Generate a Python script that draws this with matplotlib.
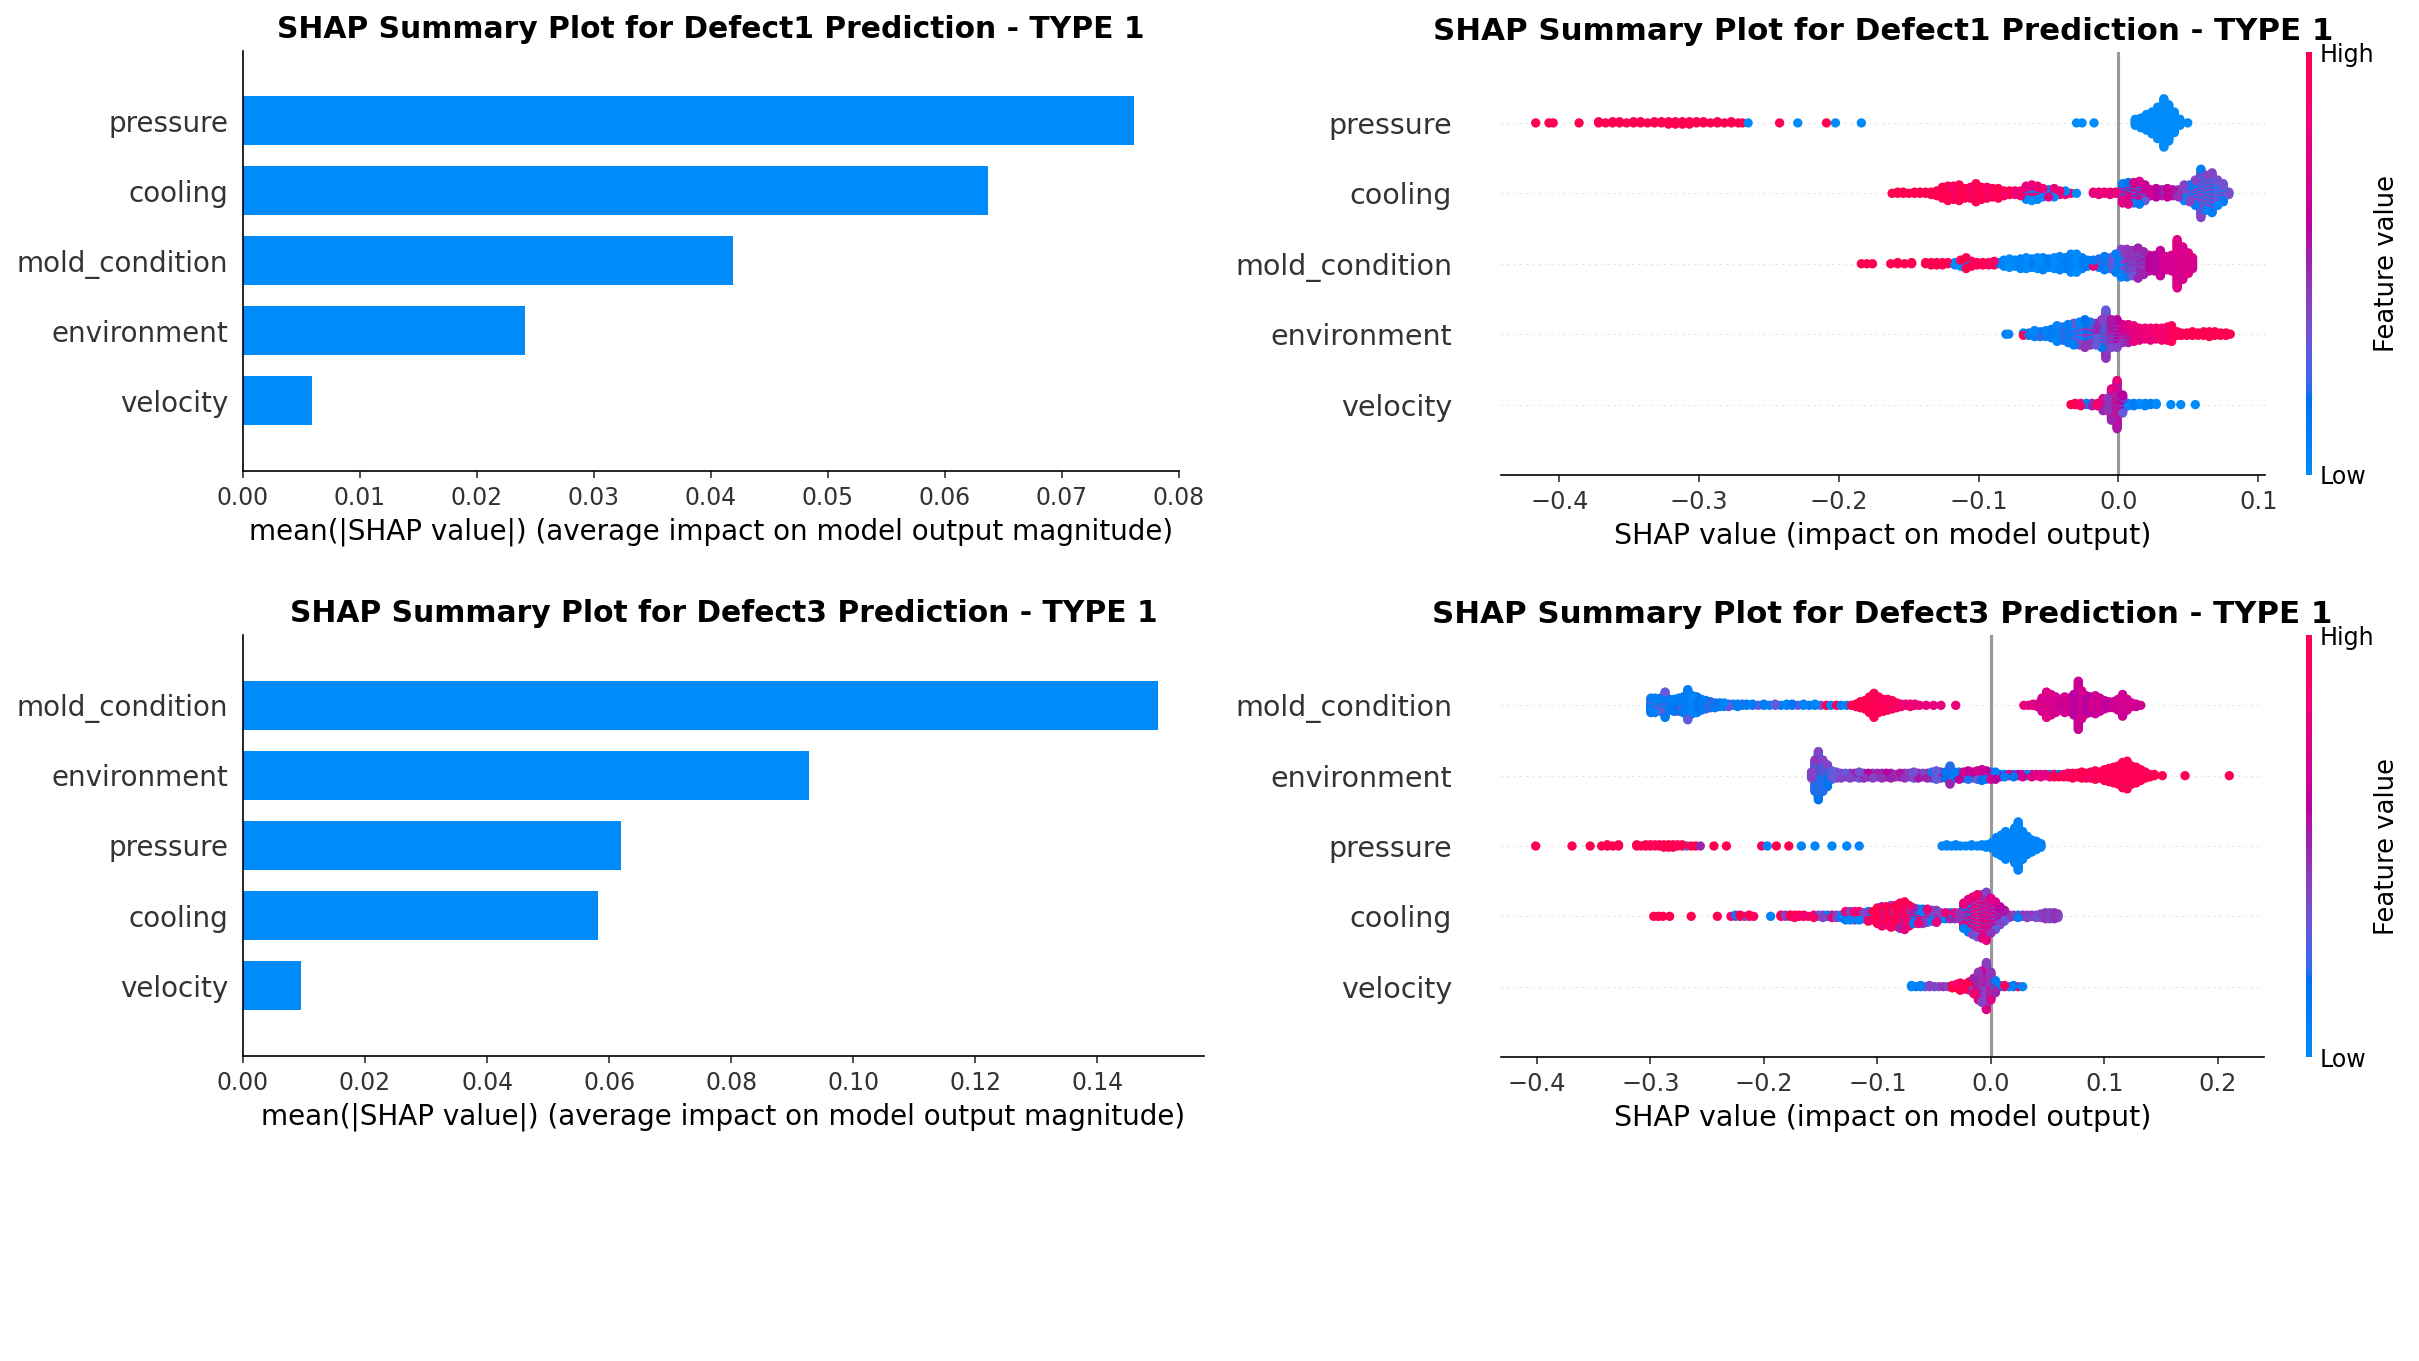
import numpy as np
import matplotlib
matplotlib.use("Agg")
import matplotlib.pyplot as plt
from matplotlib.colors import LinearSegmentedColormap, Normalize
from matplotlib.cm import ScalarMappable

# ---------------- data ----------------
title_d1 = "SHAP Summary Plot for Defect1 Prediction - TYPE 1"
title_d3 = "SHAP Summary Plot for Defect3 Prediction - TYPE 1"
bar_xlabel = "mean(|SHAP value|) (average impact on model output magnitude)"
swarm_xlabel = "SHAP value (impact on model output)"

d1_features = ["pressure", "cooling", "mold_condition", "environment", "velocity"]
d1_bar_values = [0.0762, 0.0637, 0.0419, 0.0241, 0.0059]

d3_features = ["mold_condition", "environment", "pressure", "cooling", "velocity"]
d3_bar_values = [0.1500, 0.0928, 0.0619, 0.0581, 0.0095]

# beeswarm groups: (SHAP value, number of samples, feature value 0=low..1=high)
d1_pressure = [(-0.417,1,1),(-0.4075,1,1),(-0.4045,1,1),(-0.386,1,1),
    (-0.372,2,1),(-0.367,1,1),(-0.362,2,1),(-0.357,2,1),(-0.352,1,1),(-0.347,2,1),(-0.342,2,1),(-0.337,1,1),
    (-0.332,2,1),(-0.327,2,1),(-0.322,3,1),(-0.317,3,1),(-0.312,3,1),(-0.307,3,1),(-0.302,2,1),(-0.297,2,1),
    (-0.292,1,1),(-0.287,2,1),(-0.282,1,1),(-0.277,2,1),(-0.272,1,1),(-0.269,1,1),
    (-0.265,1,0),(-0.2425,1,1),(-0.2295,1,0),(-0.209,1,1),(-0.2025,1,0),(-0.184,1,0),
    (-0.030,1,0),(-0.026,1,0),(-0.0175,1,0),
    (0.012,6,0),(0.016,9,0),(0.020,14,0),(0.024,19,0),(0.028,27,0),(0.0325,41,0),(0.036,31,0),
    (0.040,18,0),(0.044,6,0),(0.0496,1,0)]

d1_cooling = [(-0.162,1,1),(-0.158,2,1),(-0.154,2,1),(-0.150,1,1),(-0.146,2,1),(-0.142,2,1),(-0.138,2,1),
    (-0.134,3,1),(-0.130,5,1),
    (-0.126,10,1),(-0.122,13,1),(-0.118,12,0.9),(-0.114,14,1),(-0.110,9,1),(-0.106,10,0.9),(-0.102,16,1),
    (-0.098,11,1),(-0.094,10,0.9),(-0.090,8,1),(-0.086,9,1),(-0.082,5,0.9),(-0.078,4,1),(-0.074,4,0.85),
    (-0.070,5,0.85),
    (-0.066,8,0.8),(-0.066,4,0.05),(-0.062,9,0.8),(-0.062,5,0.0),(-0.058,8,0.85),(-0.058,4,0.05),
    (-0.054,5,0.8),(-0.054,3,0.0),(-0.050,4,0.75),(-0.050,3,0.05),(-0.046,5,0.8),(-0.046,3,0.0),
    (-0.042,4,0.85),(-0.038,2,0.8),(-0.038,2,0.05),(-0.034,1,0.8),
    (-0.030,1,0.0),
    (-0.018,2,0.8),(-0.014,3,0.8),(-0.010,2,0.85),(-0.006,3,0.8),(-0.002,2,0.8),
    (0.003,12,0.75),(0.003,5,0.1),(0.007,14,0.75),(0.007,5,0.15),(0.011,12,0.7),(0.011,6,0.2),
    (0.015,14,0.7),(0.015,6,0.1),(0.019,10,0.65),(0.019,4,0.3),
    (0.023,6,0.7),(0.027,8,0.6),(0.031,6,0.5),(0.035,8,0.65),(0.039,6,0.55),(0.043,7,0.45),
    (0.047,8,0.4),(0.047,6,0.05),(0.051,9,0.4),(0.051,6,0.1),
    (0.055,14,0.4),(0.055,8,0.1),(0.059,28,0.4),(0.059,13,0.1),(0.063,20,0.4),(0.063,10,0.05),
    (0.067,22,0.4),(0.067,12,0.1),(0.071,14,0.35),(0.071,8,0.05),(0.075,10,0.35),(0.075,6,0.1),
    (0.079,3,0.35)]

d1_mold = [(-0.184,1,1),(-0.180,1,1),(-0.176,1,1),
    (-0.163,1,1),(-0.158,2,1),(-0.153,1,1),(-0.148,2,1),
    (-0.138,2,1),(-0.134,3,1),(-0.130,3,1),(-0.126,3,1),(-0.122,2,1),
    (-0.117,3,0.0),(-0.113,4,1),(-0.113,2,0),(-0.109,8,1),(-0.109,2,0.05),(-0.105,5,1),(-0.101,3,0.9),
    (-0.097,3,1),(-0.093,3,0.95),(-0.089,4,0.9),(-0.086,2,0.05),
    (-0.082,6,0.05),(-0.078,8,0.0),(-0.074,6,0.05),(-0.070,9,0.05),(-0.066,10,0.0),(-0.062,8,0.1),
    (-0.058,10,0.0),(-0.054,11,0.05),(-0.050,8,0.1),(-0.046,10,0.0),(-0.042,12,0.05),(-0.038,10,0.1),
    (-0.034,16,0.05),(-0.030,16,0.0),(-0.026,10,0.1),
    (-0.022,6,0.1),(-0.018,3,0.8),(-0.018,3,0.1),(-0.014,8,0.2),(-0.010,12,0.1),(-0.006,10,0.3),
    (-0.002,16,0.1),
    (0.002,14,0.4),(0.002,10,0.05),(0.006,18,0.45),(0.006,6,0.2),(0.010,16,0.45),(0.010,6,0.3),
    (0.014,20,0.5),(0.014,6,0.3),(0.018,16,0.5),(0.018,4,0.3),
    (0.022,14,0.6),(0.026,14,0.6),(0.030,22,0.65),(0.034,12,0.7),(0.038,14,0.7),(0.042,41,0.75),
    (0.046,28,0.7),(0.050,18,0.75),(0.053,10,0.7)]

d1_environment = [(-0.0805,1,0.05),(-0.0785,1,0.05),
    (-0.068,2,1),(-0.068,1,0.05),(-0.064,3,0.1),(-0.060,6,0.05),(-0.056,5,0.2),(-0.052,6,0.05),(-0.048,8,0.1),
    (-0.044,14,0.05),(-0.040,12,0.2),(-0.036,16,0.1),
    (-0.032,12,0.1),(-0.032,7,0.35),(-0.028,12,0.05),(-0.028,8,0.4),(-0.024,14,0.15),(-0.024,10,0.45),
    (-0.020,12,0.2),(-0.020,8,0.45),(-0.016,10,0.3),(-0.016,9,0.5),
    (-0.012,16,0.4),(-0.012,8,0.15),(-0.009,30,0.45),(-0.009,11,0.3),
    (-0.005,18,0.55),(-0.005,6,0.35),(-0.001,16,0.6),(-0.001,8,0.4),
    (0.003,12,0.7),(0.003,4,0.45),(0.007,12,0.75),(0.007,4,0.5),(0.011,14,0.8),
    (0.015,11,0.8),(0.019,10,0.85),(0.023,11,0.8),(0.027,10,0.9),(0.031,11,0.85),(0.035,12,0.9),
    (0.038,14,0.95),(0.042,4,0.95),(0.045,3,1),
    (0.049,3,1),(0.053,4,1),(0.057,3,1),(0.061,4,1),(0.065,5,1),(0.069,4,1),(0.073,3,1),(0.077,3,1),
    (0.080,1,1)]

d1_velocity = [(-0.034,1,1),(-0.031,2,1),(-0.027,3,0.9),(-0.023,2,0.1),(-0.019,3,0.5),(-0.015,3,0.9),
    (-0.011,8,0.5),(-0.011,3,0.8),(-0.008,11,0.45),
    (-0.005,18,0.5),(-0.005,9,0.8),(-0.001,28,0.55),(-0.001,13,0.8),
    (0.003,11,0.6),(0.003,5,0.3),(0.007,3,0.05),(0.011,3,0.1),(0.015,2,0.0),(0.019,3,0.05),(0.023,2,0.1),
    (0.027,2,0.0),(0.0375,1,0.0),(0.0446,1,0.0),(0.055,1,0.0)]

d3_mold = [(-0.2995,11,0.1),(-0.2995,2,0.35),(-0.296,10,0.05),(-0.296,3,0.35),(-0.291,8,0.1),(-0.291,4,0.3),
    (-0.287,14,0.3),(-0.287,8,0.1),(-0.283,10,0.1),(-0.279,11,0.15),(-0.275,9,0.1),(-0.275,3,0.3),
    (-0.271,14,0.1),(-0.267,18,0.1),(-0.267,8,0.3),(-0.263,16,0.05),(-0.259,14,0.15),(-0.255,10,0.1),
    (-0.251,6,0.1),(-0.251,2,0.3),(-0.247,6,0.2),(-0.243,5,0.1),(-0.239,4,0.15),(-0.235,4,0.05),
    (-0.231,3,0.3),(-0.227,2,0.1),(-0.223,3,0.1),(-0.219,2,0.2),(-0.215,2,0.1),
    (-0.210,2,0.1),(-0.205,1,0.3),(-0.200,2,0.1),(-0.195,1,0.05),(-0.190,2,0.3),(-0.185,1,0.1),
    (-0.180,2,0.05),(-0.175,2,0.15),(-0.170,1,0.3),(-0.165,2,0.05),(-0.160,1,0.1),(-0.155,2,0.05),
    (-0.150,1,0.3),
    (-0.145,1,1),(-0.141,1,0.05),(-0.136,1,1),(-0.132,1,0.1),(-0.127,1,0.05),(-0.123,1,1),
    (-0.119,3,1),(-0.115,6,1),(-0.111,8,1),(-0.107,14,1),(-0.103,21,1),(-0.099,14,0.95),(-0.095,11,1),
    (-0.091,10,0.9),(-0.087,8,1),(-0.083,5,0.9),
    (-0.079,3,0.85),(-0.075,2,0.8),(-0.071,3,0.85),(-0.067,2,0.8),(-0.063,1,0.8),
    (-0.057,1,0.8),(-0.0505,1,0.8),(-0.044,1,0.8),(-0.031,1,0.8),
    (0.029,1,0.8),(0.033,1,0.8),(0.037,2,0.75),(0.041,3,0.75),
    (0.045,12,0.7),(0.049,22,0.75),(0.053,18,0.7),(0.057,14,0.7),
    (0.061,10,0.65),(0.065,14,0.7),(0.069,12,0.65),(0.073,18,0.6),(0.077,41,0.65),(0.080,24,0.7),
    (0.084,16,0.6),(0.088,14,0.7),(0.092,16,0.65),(0.096,12,0.7),(0.100,8,0.6),(0.104,6,0.7),
    (0.108,6,0.65),(0.112,10,0.7),(0.116,19,0.65),(0.120,10,0.7),(0.124,4,0.7),(0.128,3,0.65),
    (0.132,1,0.7)]

d3_environment = [(-0.158,6,0.4),(-0.155,20,0.2),(-0.155,7,0.45),(-0.152,26,0.15),(-0.152,15,0.4),
    (-0.148,20,0.2),(-0.148,7,0.4),(-0.144,14,0.15),(-0.144,5,0.4),(-0.140,8,0.3),
    (-0.136,6,0.35),(-0.132,5,0.4),(-0.128,4,0.3),(-0.124,5,0.4),(-0.120,4,0.5),(-0.116,6,0.35),
    (-0.112,5,0.45),(-0.108,4,0.6),(-0.104,5,0.4),(-0.100,4,0.5),(-0.096,5,0.45),(-0.092,4,0.6),
    (-0.088,5,0.5),(-0.084,3,0.45),(-0.080,4,0.55),(-0.076,5,0.45),(-0.072,4,0.4),(-0.068,6,0.35),
    (-0.064,5,0.55),(-0.060,4,0.4),(-0.056,5,0.5),(-0.052,6,0.2),
    (-0.048,8,0.3),(-0.044,6,0.5),(-0.040,6,0.15),(-0.036,10,0.2),(-0.036,6,0.5),(-0.032,6,0.1),
    (-0.028,4,0.6),(-0.028,3,0.1),(-0.024,4,0.7),(-0.024,2,0.1),(-0.020,5,0.65),(-0.020,3,0.2),
    (-0.016,4,0.6),(-0.016,2,0.1),(-0.012,5,0.7),(-0.012,3,0.3),(-0.008,6,0.65),(-0.008,4,0.15),
    (-0.004,5,0.6),(-0.004,3,0.1),(0.000,4,0.7),(0.000,3,0.2),(0.004,4,0.6),(0.004,3,0.1),
    (0.008,2,0.65),(0.008,1,0.1),(0.012,3,0.1),(0.016,2,0.7),(0.020,3,0.15),(0.024,2,0.6),(0.028,3,0.7),
    (0.032,2,0.05),(0.036,3,0.75),(0.040,2,0.7),(0.044,3,0.8),(0.048,2,0.7),(0.052,1,0.1),(0.052,2,0.8),
    (0.056,3,1),(0.060,1,0.1),(0.060,2,0.9),(0.064,3,1),
    (0.068,4,0.9),(0.072,5,1),(0.076,4,0.95),(0.080,6,1),(0.084,5,0.9),(0.088,6,1),(0.092,8,0.95),
    (0.096,6,1),(0.100,10,1),(0.104,12,0.95),(0.108,14,1),(0.112,16,0.95),(0.116,22,1),(0.120,24,0.95),
    (0.124,16,1),(0.128,14,0.95),(0.132,10,1),(0.136,6,0.95),(0.140,3,1),(0.144,2,1),(0.151,1,1),
    (0.171,1,1),(0.210,1,1)]

d3_pressure = [(-0.401,1,1),(-0.369,1,1),(-0.353,1,1),(-0.343,1,1),(-0.338,2,1),(-0.333,1,1),(-0.328,2,1),
    (-0.312,2,1),(-0.308,1,1),(-0.304,2,1),(-0.300,2,1),(-0.296,2,0.95),(-0.292,2,1),(-0.288,3,1),
    (-0.284,3,1),(-0.280,3,1),(-0.276,2,0.9),(-0.272,2,1),(-0.268,1,0.3),(-0.264,1,1),(-0.260,1,1),
    (-0.256,1,0.5),(-0.244,1,1),(-0.233,1,1),
    (-0.202,1,0.9),(-0.197,1,0.05),(-0.189,1,1),(-0.178,1,1),(-0.167,1,0.05),(-0.155,1,0.05),
    (-0.140,1,0.05),(-0.127,1,0.05),(-0.116,1,0.05),
    (-0.043,1,0.05),(-0.039,2,0.05),(-0.035,1,0.05),(-0.031,2,0.05),(-0.027,1,0.05),(-0.022,1,0.05),
    (-0.017,2,0.05),(-0.012,1,0.05),(-0.008,2,0.05),(-0.004,3,0.05),
    (0.001,6,0.05),(0.005,14,0.05),(0.009,18,0.05),(0.013,24,0.05),(0.017,20,0.05),(0.021,30,0.05),
    (0.024,41,0.05),(0.028,24,0.05),(0.032,16,0.05),(0.036,11,0.05),(0.040,8,0.05),(0.044,4,0.05)]

d3_cooling = [(-0.297,1,1),(-0.293,1,1),(-0.289,1,1),(-0.283,1,1),
    (-0.264,1,1),(-0.241,1,1),
    (-0.229,1,0.9),(-0.225,2,0.2),(-0.221,2,1),(-0.217,1,0.4),(-0.213,2,1),(-0.209,1,0.9),
    (-0.194,1,0.05),
    (-0.185,2,1),(-0.181,2,0.4),(-0.177,2,1),(-0.173,3,0.9),(-0.169,2,1),(-0.165,2,0.85),(-0.161,1,1),
    (-0.156,3,0.9),(-0.152,2,0.35),(-0.148,3,0.4),(-0.144,2,0.1),(-0.140,3,0.85),(-0.136,3,0.4),
    (-0.132,3,0.1),
    (-0.128,5,0.9),(-0.128,3,0.1),(-0.124,5,0.4),(-0.124,3,0.05),(-0.120,6,0.85),(-0.120,2,0.4),
    (-0.116,5,0.9),(-0.116,3,0.05),(-0.112,6,0.4),(-0.108,6,0.9),(-0.108,3,0.1),(-0.104,8,1),
    (-0.100,14,1),(-0.096,12,0.85),(-0.096,5,0.5),(-0.092,16,1),(-0.088,14,0.9),(-0.088,5,0.4),
    (-0.084,18,1),(-0.080,16,0.85),(-0.080,6,0.5),(-0.076,18,1),(-0.076,6,0.8),(-0.072,14,0.9),
    (-0.072,4,0.4),
    (-0.068,8,0.5),(-0.068,6,0.1),(-0.064,8,0.8),(-0.064,5,0.1),(-0.060,7,0.45),(-0.060,6,0.05),
    (-0.056,8,0.8),(-0.056,4,0.3),(-0.052,6,0.4),(-0.052,4,0.1),(-0.048,7,0.8),(-0.048,4,0.4),
    (-0.044,4,0.4),(-0.044,2,0.1),(-0.040,4,0.8),(-0.040,2,0.05),(-0.036,3,0.5),(-0.036,3,0.1),
    (-0.032,4,0.8),(-0.032,2,0.4),(-0.028,6,0.45),
    (-0.024,14,0.8),(-0.024,8,0.1),(-0.020,18,0.75),(-0.020,10,0.1),(-0.016,22,0.8),(-0.016,10,0.4),
    (-0.012,24,0.85),(-0.012,12,0.3),(-0.008,26,0.75),(-0.008,11,0.45),(-0.004,26,0.8),(-0.004,15,0.4),
    (0.000,20,0.75),(0.000,10,0.45),(0.004,16,0.7),(0.004,8,0.3),(0.008,10,0.6),(0.008,6,0.4),
    (0.012,6,0.55),(0.012,4,0.3),
    (0.016,3,0.45),(0.020,2,0.4),(0.024,3,0.1),(0.028,2,0.45),(0.032,3,0.4),(0.036,2,0.45),(0.040,3,0.35),
    (0.044,4,0.4),(0.048,6,0.45),(0.052,6,0.4),(0.056,6,0.45),(0.059,4,0.4)]

d3_velocity = [(-0.070,2,0.05),(-0.066,1,0.1),(-0.062,2,0.05),(-0.058,1,0.3),(-0.054,2,0.4),(-0.050,1,0.35),
    (-0.046,1,0.4),(-0.042,1,0.45),(-0.038,1,0.4),
    (-0.034,3,1),(-0.030,4,0.9),(-0.027,6,1),(-0.027,1,0.1),(-0.023,5,0.95),(-0.019,6,1),(-0.019,2,0.4),
    (-0.015,10,0.5),(-0.015,4,0.9),
    (-0.011,18,0.45),(-0.011,6,0.75),(-0.008,20,0.4),(-0.008,7,0.7),(-0.004,30,0.42),(-0.004,10,0.75),
    (0.0,18,0.45),(0.0,6,0.75),(0.004,7,0.5),(0.004,4,0.1),
    (0.008,2,0.1),(0.012,2,0.9),(0.016,1,0.05),(0.020,2,0.1),(0.024,1,0.9),(0.028,1,0.05)]

d1_swarm = {"pressure": d1_pressure, "cooling": d1_cooling, "mold_condition": d1_mold,
            "environment": d1_environment, "velocity": d1_velocity}
d3_swarm = {"mold_condition": d3_mold, "environment": d3_environment, "pressure": d3_pressure,
            "cooling": d3_cooling, "velocity": d3_velocity}

# ---------------- shap-like colours ----------------
def lch2rgb(l, c, h):
    a = c * np.cos(h)
    b = c * np.sin(h)
    fy = (l + 16.0) / 116.0
    fx = fy + a / 500.0
    fz = fy - b / 200.0
    d = 6.0 / 29.0
    finv = lambda t: t ** 3 if t > d else 3 * d * d * (t - 4.0 / 29.0)
    xyz = np.array([0.95047 * finv(fx), 1.0 * finv(fy), 1.08883 * finv(fz)])
    M = np.array([[3.2406, -1.5372, -0.4986], [-0.9689, 1.8758, 0.0415], [0.0557, -0.2040, 1.0570]])
    lin = M @ xyz
    rgb = np.where(lin > 0.0031308, 1.055 * np.power(np.clip(lin, 0, None), 1 / 2.4) - 0.055, 12.92 * lin)
    return np.clip(rgb, 0, 1)

blue_lch = [54.0, 70.0, 4.6588]
l_mid = 40.0
red_lch = [54.0, 90.0, 0.35470565 + 2 * np.pi]
nsteps = 100
l_vals = list(np.linspace(blue_lch[0], l_mid, nsteps // 2)) + list(np.linspace(l_mid, red_lch[0], nsteps // 2))
c_vals = np.linspace(blue_lch[1], red_lch[1], nsteps)
h_vals = np.linspace(blue_lch[2], red_lch[2], nsteps)
cols = [lch2rgb(l, c, h) for l, c, h in zip(l_vals, c_vals, h_vals)]
red_blue = LinearSegmentedColormap.from_list("red_blue", list(zip(np.linspace(0, 1, nsteps), cols)))
blue_rgb = lch2rgb(*blue_lch)
axis_color = "#333333"

# ---------------- figure ----------------
plt.rcParams["font.family"] = ["DejaVu Sans"]
W, H = 2419, 1361
DPI = 150
fig = plt.figure(figsize=(W / DPI, H / DPI), dpi=DPI)

def frac(l, t, r, b):
    return [l / W, 1 - b / H, (r - l) / W, (b - t) / H]

def draw_bar(ax, feats, vals, title):
    n = len(feats)
    ypos = np.arange(n)[::-1]
    ax.barh(ypos, vals, 0.7, align="center", color=blue_rgb)
    ax.set_yticks(ypos)
    ax.set_yticklabels(feats, fontsize=13.3)
    ax.xaxis.set_ticks_position("bottom")
    ax.yaxis.set_ticks_position("none")
    ax.spines["right"].set_visible(False)
    ax.spines["top"].set_visible(False)
    ax.tick_params(color=axis_color, labelcolor=axis_color)
    ax.tick_params("x", labelsize=11.3)
    ax.set_ylim(-1, n)
    ax.set_xlabel(bar_xlabel, fontsize=13.3)
    ax.set_title(title, fontsize=14.3, fontweight="bold")

def draw_swarm(ax, cax, feats, data, title):
    n = len(feats)
    allx, ally, allc, allk = [], [], [], []
    for r, name in enumerate(feats):
        pos = n - 1 - r
        ax.axhline(y=pos, color="#cccccc", lw=0.5, dashes=(1, 5), zorder=-1)
        columns = {}
        for (x, cnt, fv) in data[name]:
            columns.setdefault(x, []).append((cnt, fv))
        rx, ry, rc, rk = [], [], [], []
        for x, members in columns.items():
            pts = []
            for cnt, fv in members:
                for j in range(cnt):
                    pts.append(((j + 0.5) / cnt, fv))
            pts.sort(key=lambda p: p[0])
            for layer, (k, fv) in enumerate(pts):
                rx.append(x)
                ry.append(np.ceil(layer / 2) * ((layer % 2) * 2 - 1))
                rc.append(fv)
                rk.append(k)
        ry = np.array(ry, dtype=float)
        ry *= 0.9 * (0.4 / np.max(ry + 1))
        allx += rx
        ally += list(ry + pos)
        allc += rc
        allk += rk
    order = np.argsort(np.array(allk), kind="stable")
    ax.scatter(np.array(allx)[order], np.array(ally)[order], c=np.array(allc)[order], cmap=red_blue,
               vmin=0, vmax=1, s=20, alpha=1, linewidth=0, zorder=3)
    ax.axvline(x=0, color="#999999", zorder=-1)
    ax.xaxis.set_ticks_position("bottom")
    ax.yaxis.set_ticks_position("none")
    for s in ["right", "top", "left"]:
        ax.spines[s].set_visible(False)
    ax.tick_params(color=axis_color, labelcolor=axis_color)
    ax.set_yticks(range(n))
    ax.set_yticklabels(feats[::-1], fontsize=13.7)
    ax.tick_params("y", length=20, width=0.5, which="major")
    ax.tick_params("x", labelsize=11.5)
    ax.set_ylim(-1, n)
    ax.set_xlabel(swarm_xlabel, fontsize=13.7)
    ax.set_title(title, fontsize=14.8, fontweight="bold")
    m = ScalarMappable(cmap=red_blue, norm=Normalize(0, 1))
    m.set_array([0, 1])
    cb = fig.colorbar(m, cax=cax, ticks=[0, 1])
    cb.set_ticklabels(["Low", "High"])
    cb.set_label("Feature value", size=12.4, labelpad=0)
    cb.ax.tick_params(labelsize=11.4, length=0)
    cb.outline.set_visible(False)

ax1 = fig.add_axes(frac(243, 51, 1179, 471))
draw_bar(ax1, d1_features, d1_bar_values, title_d1)

ax2 = fig.add_axes(frac(1501, 52.5, 2265, 475))
cax2 = fig.add_axes(frac(2306, 52.5, 2312, 475))
draw_swarm(ax2, cax2, d1_features, d1_swarm, title_d1)

ax3 = fig.add_axes(frac(243, 635, 1204, 1056))
draw_bar(ax3, d3_features, d3_bar_values, title_d3)

ax4 = fig.add_axes(frac(1501, 635, 2264, 1057))
cax4 = fig.add_axes(frac(2306, 635, 2312, 1057))
draw_swarm(ax4, cax4, d3_features, d3_swarm, title_d3)

fig.savefig("out.png", dpi=DPI)
